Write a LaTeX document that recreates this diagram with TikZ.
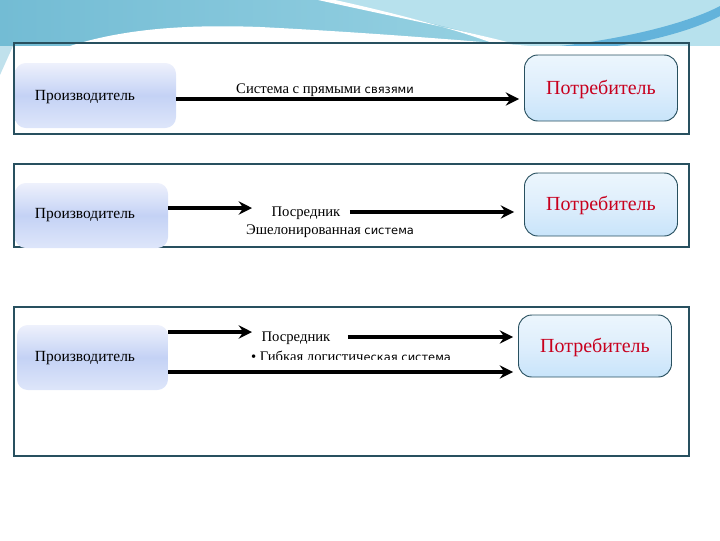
\documentclass[tikz,border=0pt]{standalone}
\usepackage{fontspec}
\setmainfont{Liberation Serif}
\newfontfamily\sansf{DejaVu Sans}
\usetikzlibrary{arrows.meta}
\definecolor{framec}{RGB}{40,80,95}
\definecolor{conred}{RGB}{200,0,30}
\definecolor{skyA}{RGB}{115,188,212}
\definecolor{skyB}{RGB}{165,218,232}
\definecolor{skyC}{RGB}{60,160,210}
\newcommand{\sanspart}[1]{{\sansf\fontsize{8.6}{10}\selectfont #1}}
\tikzset{
  panel/.style={draw=framec, line width=0.9pt},
  prod/.style={rounded corners=8, minimum width=160*0.75pt, minimum height=65*0.75pt, inner sep=0pt,
    top color={rgb,255:red,238;green,241;blue,252}, bottom color={rgb,255:red,222;green,230;blue,250},
    middle color={rgb,255:red,196;green,210;blue,245}},
  cons/.style={draw=framec, line width=0.7pt, rounded corners=10, minimum width=153*0.75pt, minimum height=66*0.75pt,
    inner sep=0pt, top color={rgb,255:red,236;green,246;blue,253}, bottom color={rgb,255:red,200;green,228;blue,250},
    middle color={rgb,255:red,222;green,238;blue,252}},
  ptext/.style={font=\fontsize{11.6}{13}\selectfont, text=black},
  ctext/.style={font=\fontsize{15}{17}\selectfont, text=conred},
  lab/.style={font=\fontsize{11}{13}\selectfont, text=black, inner sep=1pt},
  arr/.style={line width=2.7pt, -{Stealth[length=10pt,width=10pt,inset=3.5pt]}},
}
\begin{document}
\begin{tikzpicture}[x=0.75pt,y=-0.75pt]
\useasboundingbox (0,0) rectangle (720,540);
% top decoration
\fill[left color=skyA, right color=skyB] (0,0) rectangle (720,46);
\fill[skyB!80!white] (330,0) .. controls (420,20) and (480,35) .. (520,46) -- (720,46) -- (720,0) -- cycle;
\fill[white] (318,0) .. controls (400,18) and (470,32) .. (515,44) -- (500,46) .. controls (460,30) and (390,12) .. (335,0) -- cycle;
\fill[skyC!80!white] (560,46) .. controls (630,38) and (690,22) .. (720,6) -- (720,16) .. controls (690,32) and (640,44) .. (600,48) -- cycle;
\fill[white] (0,46) -- (70,46) .. controls (120,30) and (180,24) .. (260,27) .. controls (360,32) and (460,40) .. (530,46) -- (720,46) -- (720,48) -- (0,48) -- cycle;
\fill[skyA!45!white] (0,46) -- (13,46) -- (0,75) -- cycle;
% panels
\draw[panel] (14,43) rectangle (689,134);
\draw[panel] (14,164) rectangle (689,247);
\draw[panel] (14,307) rectangle (689,456);
% row 1
\node[prod, minimum width=161*0.75pt] (p1) at (95.5,95.5) {};
\node[ptext] (p1t) at (85,97) {Производитель};
\node[cons] (c1) at (601,88) {};
\node[ctext] (c1t) at (601,89) {Потребитель};
\coordinate (r1) at (300,99);
\draw[arr, shorten >=5*0.75pt] (p1.east |- r1) -- (c1.west |- r1);
\node[lab] (l1) at (325,90) {Система с прямыми \sanspart{связями}};
% row 2
\node[prod, minimum width=153*0.75pt] (p2) at (91.5,215.5) {};
\node[ptext] (p2t) at (85,215) {Производитель};
\node[cons, minimum height=63*0.75pt] (c2) at (601,204.5) {};
\node[ctext] (c2t) at (601,205) {Потребитель};
\node[lab, anchor=west] (m2) at (270,213) {Посредник};
\coordinate (r2a) at (200,208);
\coordinate (r2b) at (400,212);
\draw[arr] (p2.east |- r2a) -- (252,208);
\draw[arr, shorten <=8*0.75pt, shorten >=10*0.75pt] (m2.east |- r2b) -- (c2.west |- r2b);
\node[lab] (l2) at (330,231) {Эшелонированная \sanspart{система}};
% row 3
\node[prod, minimum width=151*0.75pt] (p3) at (92.5,357.5) {};
\node[ptext] (p3t) at (85,358) {Производитель};
\node[cons, minimum height=62*0.75pt] (c3) at (595,346) {};
\node[ctext] (c3t) at (595,347) {Потребитель};
\node[lab, anchor=west] (m3) at (260,338) {Посредник};
\coordinate (r3a) at (200,332);
\coordinate (r3b) at (400,337);
\coordinate (r3c) at (400,372);
\draw[arr] (p3.east |- r3a) -- (252,332);
\draw[arr, shorten <=16*0.75pt, shorten >=5*0.75pt] (m3.east |- r3b) -- (c3.west |- r3b);
\draw[arr, shorten >=5*0.75pt] (p3.east |- r3c) -- (c3.west |- r3c);
\begin{scope}
\clip (200,345) rectangle (500,359);
\node[lab] (l3) at (351,356) {• Гибкая логистич\sanspart{еская система}};
\end{scope}
\end{tikzpicture}
\end{document}
